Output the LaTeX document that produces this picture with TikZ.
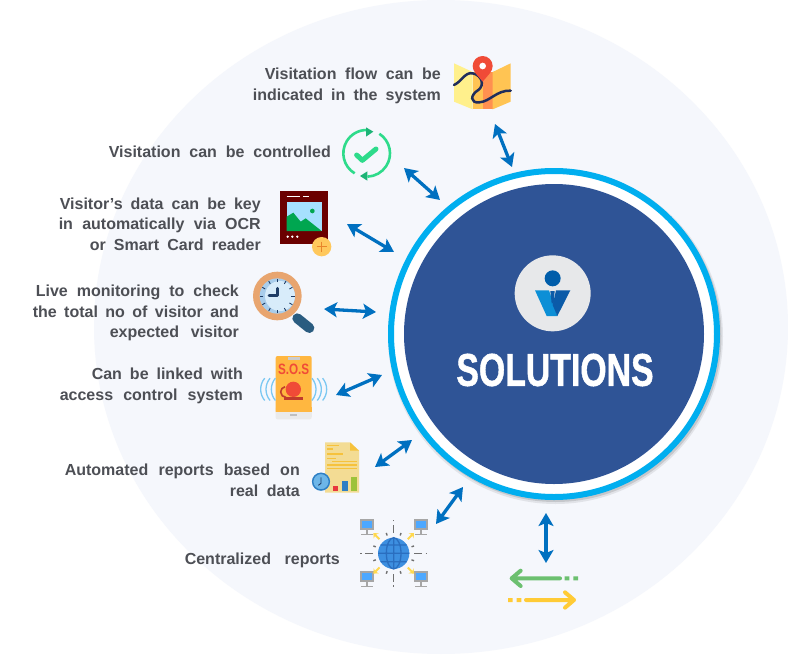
\documentclass[tikz,border=0pt]{standalone}
\usepackage{fontspec}
\setmainfont{Liberation Sans}
\newfontfamily\solutionsfont{Liberation Sans}[FakeBold=1.2]
\usetikzlibrary{arrows.meta}
\newcommand{\fitline}[2]{\makebox[#1pt][s]{#2}}
\definecolor{bgpale}{HTML}{F5F7FC}
\definecolor{ringblue}{HTML}{00AEEF}
\definecolor{discblue}{HTML}{2F5496}
\definecolor{arrowblue}{HTML}{0070C0}
\definecolor{textgrey}{HTML}{4D4F55}
\definecolor{badgegrey}{HTML}{E7E8EA}
\definecolor{logohead}{HTML}{005DAA}
\definecolor{logolight}{HTML}{0C8FD6}
\definecolor{logodark}{HTML}{0B5BA8}
\definecolor{mapyellow}{HTML}{FFF08C}
\definecolor{maporange}{HTML}{FFC453}
\definecolor{mapband}{HTML}{FF9050}
\definecolor{mapnavy}{HTML}{1F2D5C}
\definecolor{pinred}{HTML}{F04B37}
\definecolor{checkgreen}{HTML}{2EDB8B}
\definecolor{checkdark}{HTML}{1DB376}
\definecolor{framered}{HTML}{6B0000}
\definecolor{skyblue}{HTML}{A6E0FF}
\definecolor{hillgreen}{HTML}{00A650}
\definecolor{plusyellow}{HTML}{FFC85C}
\definecolor{plusorange}{HTML}{E8852B}
\definecolor{lensring}{HTML}{E8A56F}
\definecolor{lenspale}{HTML}{D8ECFA}
\definecolor{lensmid}{HTML}{A9CDEB}
\definecolor{handleblue}{HTML}{2A5C80}
\definecolor{handnavy}{HTML}{1F3D66}
\definecolor{phoneorange}{HTML}{FFB740}
\definecolor{phonegrey}{HTML}{EAEAEA}
\definecolor{wavecyan}{HTML}{7CC8F2}
\definecolor{papercream}{HTML}{F3DC94}
\definecolor{paperfold}{HTML}{F6C23C}
\definecolor{barred}{HTML}{E8383D}
\definecolor{barblue}{HTML}{2F7FC4}
\definecolor{bargreen}{HTML}{9DC23A}
\definecolor{clockblue}{HTML}{6DB6E8}
\definecolor{monitorgrey}{HTML}{A6A6A6}
\definecolor{screenblue}{HTML}{4DA8FF}
\definecolor{spokegrey}{HTML}{707070}
\definecolor{starryellow}{HTML}{FFD84D}
\definecolor{globeblue}{HTML}{3D8FE0}
\definecolor{globeline}{HTML}{2A6EBF}
\definecolor{flowgreen}{HTML}{6CC070}
\definecolor{flowyellow}{HTML}{FFCB36}
\tikzset{
  captiontext/.style={anchor=east, align=right, text=textgrey, inner sep=0pt, font=\fontsize{16}{20.6}\selectfont\bfseries},
  linkarrow/.style={arrowblue, line width=3.3pt, {Stealth[length=13pt,width=15pt,inset=3pt]}-{Stealth[length=13pt,width=15pt,inset=3pt]}},
  zoomA/.style={shift={(240,40)}, scale=1/3},
  zoomB/.style={shift={(240,260)}, scale=1/3},
  zoomC/.style={shift={(310,430)}, scale=1/3},
  zoomD/.style={shift={(440,240)}, scale=1/3},
}
\begin{document}
\begin{tikzpicture}[x=1pt, y=-1pt]
  \useasboundingbox (0,0) rectangle (788,654);
  \fill[white] (0,0) rectangle (788,654);
  \fill[bgpale] (441,327) ellipse (347 and 327);

  \fill[black, opacity=.08] (555.5,336.5) circle (167.5);
  \fill[black, opacity=.12] (555.5,336) circle (166);
  \filldraw[fill=white, draw=ringblue, line width=6pt] (554,334) circle (163);
  \fill[discblue] (554,334) circle (150);

  % badge
  \begin{scope}[zoomD]
    \fill[badgegrey] (338,160) circle (114);
    \fill[logohead] (338,115) circle (24);
    \fill[logolight] (285,151) -- (327,151) -- (352,228) -- (320,228) -- cycle;
    \fill[logodark] (348,151) -- (391,151) -- (352,228) -- (338,195) -- cycle;
    \fill[logodark] (331,153) -- (344,153) -- (341,190) -- (335,190) -- cycle;
  \end{scope}
  \node[inner sep=0pt, text=white] (solutionsText) at (555,370)
    {\scalebox{.735}[1]{\fontsize{46}{46}\selectfont\solutionsfont\bfseries SOLUTIONS}};

  \node[captiontext] (flowText) at (441,86) {\fitline{176}{Visitation flow can be}\\\fitline{188}{indicated in the system}};
  \node[captiontext] (controlText) at (331,152) {\fitline{222}{Visitation can be controlled}};
  \node[captiontext] (dataText) at (261,224) {\fitline{201}{Visitor’s data can be key}\\\fitline{202}{in automatically via OCR}\\\fitline{171}{or Smart Card reader}};
  \node[captiontext] (liveText) at (239,313) {\fitline{203}{Live monitoring to check}\\\fitline{206}{the total no of visitor and}\\\fitline{129}{expected visitor}};
  \node[captiontext] (linkText) at (243,386) {\fitline{151}{Can be linked with}\\\fitline{183}{access control system}};
  \node[captiontext] (autoText) at (300,480) {\fitline{235}{Automated reports based on}\\\fitline{70}{real data}};
  \node[captiontext] (centralText) at (340,560) {\fitline{155}{Centralized reports}};

  \foreach \name/\ax/\ay/\bx/\by in {flow/495/124/512/167, control/404/168/440/200,
      data/347/224/394/252, live/324/309/376/312, link/336/395/382/375,
      auto/375/467/412/440, central/436/524/463/487, other/546/513/546/563} {
    \coordinate (\name A) at (\ax,\ay);
    \coordinate (\name B) at (\bx,\by);
    \draw[linkarrow] (\name A) -- (\name B);
  }

  % map
  \begin{scope}[zoomA]
    \fill[mapyellow] (642,70) -- (698,96) -- (698,208) -- (642,185) -- cycle;
    \fill[maporange] (698,96) -- (758,96) -- (758,208) -- (698,208) -- cycle;
    \fill[mapband] (728,96) -- (758,96) -- (758,208) -- (728,208) -- cycle;
    \fill[maporange] (758,96) -- (812,70) -- (812,185) -- (758,208) -- cycle;
    \draw[mapnavy, line width=2.5pt, line cap=round]
      (642,135) .. controls (665,125) and (675,95) .. (698,100)
      .. controls (725,105) and (735,135) .. (715,150)
      .. controls (690,165) and (690,190) .. (718,187)
      .. controls (750,185) and (770,150) .. (812,152);
    \fill[pinred] (728,125) .. controls (712,105) and (698,95) .. (698,78)
      arc (180:360:30) .. controls (758,95) and (744,105) .. (728,125) -- cycle;
    \fill[white] (728,78) circle (10);
  \end{scope}

  % check
  \begin{scope}[zoomA]
    \draw[checkgreen, line width=2.6pt] (380,340) ++(-57:70) arc (-57:88:70);
    \draw[checkgreen, line width=2.6pt] (380,340) ++(121:70) arc (121:270:70);
    \fill[checkdark] (378,262) -- (400,275) -- (378,290) -- cycle;
    \fill[checkdark] (382,394) -- (360,408) -- (382,422) -- cycle;
    \draw[checkgreen, line width=5pt, line cap=round, line join=round] (350,345) -- (367,361) -- (408,327);
  \end{scope}

  % picture frame
  \begin{scope}[zoomA]
    \fill[framered] (120,453) rectangle (265,612);
    \fill[skyblue] (140,487) rectangle (245,573);
    \fill[hillgreen] (140,573) -- (140,530) -- (160,518) -- (182,545) -- (197,535) -- (245,573) -- cycle;
    \fill[hillgreen] (217,513) circle (7);
    \draw[white, line width=1.3pt] (140,470) -- (180,470) (190,470) -- (207,470);
    \foreach \dotx in {143,157,172} \fill[white] (\dotx,590) circle (4);
    \fill[plusyellow] (245,620) circle (29);
    \draw[plusorange, line width=1.4pt] (245,605) -- (245,635) (230,620) -- (260,620);
  \end{scope}

  % magnifier
  \begin{scope}[zoomB]
    \draw[handleblue, line width=10pt, line cap=round] (172,175) -- (208,204);
    \fill[lensring] (112,108) circle (73);
    \fill[lensmid] (112,108) circle (53);
    \fill[lenspale] (120,108) circle (45);
    \foreach \tick in {0,30,...,330}
      \draw[handnavy, line width=.9pt] (112,108) ++(\tick:42) -- ++(\tick:10);
    \draw[handnavy, line width=2.8pt, line cap=round, line join=round] (113,85) -- (113,106) -- (87,106);
  \end{scope}

  % phone
  \begin{scope}[zoomB]
    \fill[phonegrey, rounded corners=2pt] (107,440) rectangle (215,478);
    \fill[phoneorange, rounded corners=2pt] (107,288) rectangle (215,460);
    \fill[phoneorange] (107,440) rectangle (215,455);
    \fill[phonegrey] (107,455) rectangle (215,470);
    \fill[black!20] (143,290) rectangle (180,300);
    \fill[black!25] (150,463) rectangle (172,469);
    \node[inner sep=0pt, text=pinred] (sosText) at (161,328)
      {\scalebox{.78}[1]{\fontsize{15}{15}\selectfont\bfseries S.O.S}};
    \draw[pinred!80!black, line width=1.6pt] (138,412) arc (90:260:16) ;
    \fill[pinred] (160,388) circle (23);
    \fill[pinred!80!black] (132,410) rectangle (190,419);
    \foreach \waveX in {62,78,94} {
      \draw[wavecyan, line width=1.3pt] (\waveX+52,388) ++(140:52) arc (140:220:52);
      \draw[wavecyan, line width=1.3pt] (322-\waveX-52,388) ++(40:52) arc (40:-40:52);
    }
  \end{scope}

  % report
  \begin{scope}[zoomC]
    \fill[papercream] (45,37) -- (120,37) -- (147,62) -- (147,188) -- (45,188) -- cycle;
    \fill[paperfold] (120,37) -- (147,62) -- (120,62) -- cycle;
    \draw[paperfold, line width=1.2pt]
      (52,47) -- (88,47) (52,57) -- (70,57) (52,72) -- (98,72) (52,85) -- (78,85)
      (66,94) -- (140,94) (52,105) -- (140,105) (52,116) -- (140,116);
    \fill[barred] (68,167) rectangle (85,183);
    \fill[barblue] (96,153) rectangle (113,183);
    \fill[bargreen] (123,142) rectangle (140,183);
    \fill[clockblue] (33,155) circle (27);
    \draw[barblue, line width=1.4pt] (33,155) circle (25);
    \draw[handnavy, line width=.9pt] (33,142) -- (33,160) -- (25,166);
  \end{scope}

  % network
  \begin{scope}[zoomC]
    \foreach \compx/\compy in {150/268, 312/268, 150/424, 312/424} {
      \fill[monitorgrey] (\compx,\compy) rectangle ++(42,32);
      \fill[screenblue] (\compx+6,\compy+5) rectangle ++(30,20);
      \draw[monitorgrey, line width=1.2pt] (\compx+21,\compy+32) -- ++(0,12) (\compx+3,\compy+46) -- ++(36,0);
    }
    \foreach \spokeA in {0,90,180,270} {
      \draw[spokegrey, line width=1.5pt] (251,370) ++(\spokeA:62) -- ++(\spokeA:24);
      \draw[spokegrey, line width=1.5pt] (251,370) ++(\spokeA:96) -- ++(\spokeA:5);
    }
    \foreach \spokeA in {20,70,110,160,200,250,290,340}
      \draw[spokegrey, line width=1.4pt] (251,370) ++(\spokeA:57) -- ++(\spokeA:8);
    \foreach \spokeA in {45,135,225,315}
      \draw[starryellow, line width=2pt, -{Stealth[length=4pt,width=7pt]}] (251,370) ++(\spokeA:60) -- ++(\spokeA:26);
    \fill[globeblue] (251,370) circle (47);
    \draw[globeline, line width=1.3pt] (251,370) ellipse (22 and 47) (251,323) -- (251,417) (204,370) -- (298,370)
      (212,345) -- (290,345) (212,395) -- (290,395);
  \end{scope}

  % flow arrows
  \begin{scope}[zoomC]
    \draw[flowgreen, line width=4pt, line join=round, line cap=round]
      (750,445) -- (605,445) (632,422) -- (605,445) -- (632,468);
    \fill[flowgreen] (764,439) rectangle ++(14,12) (790,439) rectangle ++(14,12);
    \draw[flowyellow, line width=4pt, line join=round, line cap=round]
      (648,510) -- (792,510) (765,487) -- (792,510) -- (765,533);
    \fill[flowyellow] (594,504) rectangle ++(14,12) (620,504) rectangle ++(14,12);
  \end{scope}
\end{tikzpicture}
\end{document}
